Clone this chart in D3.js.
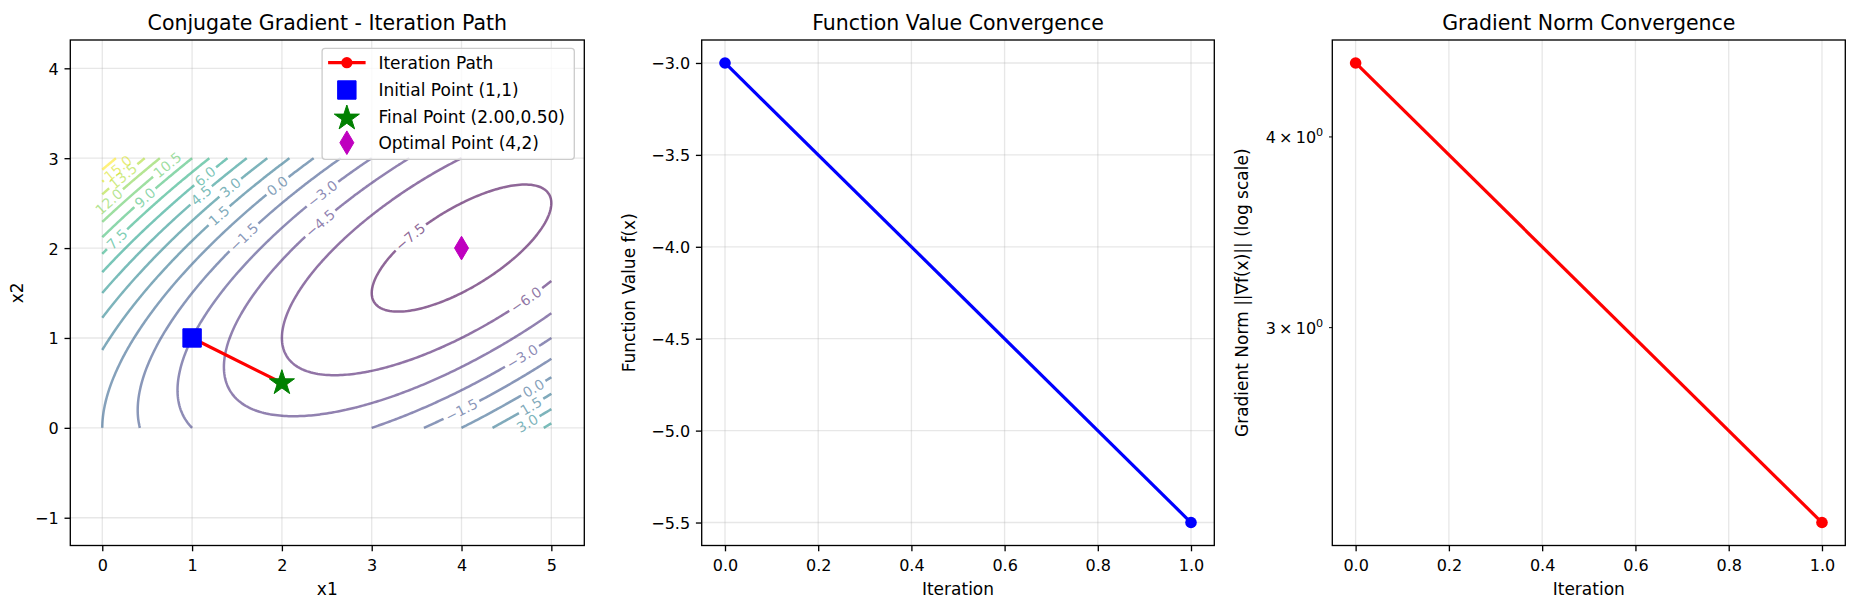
<!DOCTYPE html>
<html><head><meta charset="utf-8">
<script src="https://cdn.jsdelivr.net/npm/d3@7"></script>
<style>
body{margin:0;background:#fff;}
text{font-family:"DejaVu Sans",sans-serif;}
</style></head><body>
<svg id="chart" width="1855" height="605"></svg>
<script>
// ================= DATA =================
const pathX1 = [1, 2];
const pathX2 = [1, 0.5];
const optimalX1 = [4];
const optimalX2 = [2];
const iterations = [0, 1];
const funcValues = [-3.0, -5.5];
const gradNorms = [4.472, 2.236];
// objective: c0*x1^2 + c1*x1*x2 + c2*x2^2 + c3*x1 + c4*x2
const objCoeffs = [1, -2, 2, -4, 0];
const gridX1 = [0, 5];
const gridX2 = [0, 3];
const contourLevels = [-7.5,-6,-4.5,-3,-1.5,0,1.5,3,4.5,6,7.5,9,10.5,12,13.5,15,16.5];
const labelLevels = [-7.5,-6.0,-4.5,-3.0,-3.0,-1.5,-1.5,0.0,0.0,1.5,1.5,3.0,3.0,4.5,6.0,7.5,9.0,10.5,12.0,13.5,15.0];
const labelX1 = [3.44,4.69,2.43,2.47,4.67,1.57,3.99,1.94,4.78,1.30,4.76,1.41,4.71,1.08,1.14,0.12,0.48,0.74,0.07,0.23,0.18];
const labelX2 = [2.12,1.45,2.29,2.60,0.79,2.12,0.19,2.70,0.45,2.36,0.27,2.68,0.10,2.60,2.81,2.14,2.57,2.90,2.51,2.81,2.88];
const leftXTicks = [0,1,2,3,4,5];
const leftYTicks = [-1,0,1,2,3,4];
const iterTicks = [0,0.2,0.4,0.6,0.8,1.0];
const fTicks = [-3.0,-3.5,-4.0,-4.5,-5.0,-5.5];
const gradTicks = [3, 4];
const legendLabels = ["Iteration Path","Initial Point (1,1)","Final Point (2.00,0.50)","Optimal Point (4,2)"];
const titles = ["Conjugate Gradient - Iteration Path","Function Value Convergence","Gradient Norm Convergence"];

// ================= LAYOUT =================
const W = 1855, H = 605;
const TOP = 40, BOTTOM = 545.5;
const P = [{l:70.3, r:584.3}, {l:701.7, r:1214.3}, {l:1332.3, r:1845.3}];
const leftXLim = [-0.356, 5.367], leftYLim = [-1.309, 4.315];
const FS = 16, LFS = 17, TFS = 20.5, CFS = 14, LEGFS = 17;
const TICKLEN = 5.8, PAD = 5.8, SPW = 1.33;
const GRIDC = "#b0b0b0", GRIDA = 0.3;

const svg = d3.select("#chart");
svg.append("rect").attr("width", W).attr("height", H).attr("fill", "#fff");

function pad(lo, hi) { const d = (hi - lo) * 0.05; return [lo - d, hi + d]; }
const fmt1 = d3.format(".1f");

// scales
const xL = d3.scaleLinear().domain(leftXLim).range([P[0].l, P[0].r]);
const yL = d3.scaleLinear().domain(leftYLim).range([BOTTOM, TOP]);
const xM = d3.scaleLinear().domain(pad(d3.min(iterations), d3.max(iterations))).range([P[1].l, P[1].r]);
const yM = d3.scaleLinear().domain(pad(d3.min(funcValues), d3.max(funcValues))).range([BOTTOM, TOP]);
const xR = d3.scaleLinear().domain(pad(d3.min(iterations), d3.max(iterations))).range([P[2].l, P[2].r]);
const lgMin = Math.log(d3.min(gradNorms)), lgMax = Math.log(d3.max(gradNorms));
const lgPad = (lgMax - lgMin) * 0.05;
const yR = d3.scaleLog().domain([Math.exp(lgMin - lgPad), Math.exp(lgMax + lgPad)]).range([BOTTOM, TOP]);

const defs = svg.append("defs");
P.forEach((p, i) => {
  defs.append("clipPath").attr("id", "clip" + i).append("rect")
    .attr("x", p.l).attr("y", TOP).attr("width", p.r - p.l).attr("height", BOTTOM - TOP);
});

function gridV(g, xs, ticks) {
  g.selectAll(null).data(ticks).enter().append("line")
    .attr("x1", d => xs(d)).attr("x2", d => xs(d)).attr("y1", TOP).attr("y2", BOTTOM)
    .attr("stroke", GRIDC).attr("stroke-opacity", GRIDA).attr("stroke-width", SPW);
}
function gridH(g, ys, ticks, p) {
  g.selectAll(null).data(ticks).enter().append("line")
    .attr("y1", d => ys(d)).attr("y2", d => ys(d)).attr("x1", p.l).attr("x2", p.r)
    .attr("stroke", GRIDC).attr("stroke-opacity", GRIDA).attr("stroke-width", SPW);
}
function xAxis(xs, ticks, f) {
  const g = svg.append("g").attr("transform", `translate(0,${BOTTOM})`)
    .call(d3.axisBottom(xs).tickValues(ticks).tickFormat(f).tickSize(TICKLEN).tickPadding(PAD));
  g.select(".domain").remove();
  g.selectAll(".tick line").attr("stroke", "#000").attr("stroke-width", SPW);
  g.selectAll(".tick text").attr("font-size", FS).attr("font-family", '"DejaVu Sans",sans-serif')
    .attr("fill", "#000").attr("y", 25.4).attr("dy", 0);
}
function yAxis(ys, ticks, f, p) {
  const g = svg.append("g").attr("transform", `translate(${p.l},0)`)
    .call(d3.axisLeft(ys).tickValues(ticks).tickFormat(f).tickSize(TICKLEN).tickPadding(PAD));
  g.select(".domain").remove();
  g.selectAll(".tick line").attr("stroke", "#000").attr("stroke-width", SPW);
  g.selectAll(".tick text").attr("font-size", FS).attr("font-family", '"DejaVu Sans",sans-serif')
    .attr("fill", "#000").attr("dy", "0.37em");
}
function frame(p) {
  svg.append("rect").attr("x", p.l).attr("y", TOP).attr("width", p.r - p.l).attr("height", BOTTOM - TOP)
    .attr("fill", "none").attr("stroke", "#000").attr("stroke-width", SPW);
}
function title(p, t) {
  svg.append("text").attr("x", (p.l + p.r) / 2).attr("y", 29.5).attr("text-anchor", "middle")
    .attr("font-size", TFS).text(t);
}
function xLabel(p, t) {
  svg.append("text").attr("x", (p.l + p.r) / 2).attr("y", 595).attr("text-anchor", "middle")
    .attr("font-size", LFS).text(t);
}
function yLabel(x, t) {
  svg.append("text").attr("transform", `translate(${x},${(TOP + BOTTOM) / 2}) rotate(-90)`)
    .attr("text-anchor", "middle").attr("font-size", LFS).text(t);
}

// ================= LEFT: contour plot =================
const gL = svg.append("g");
gridV(gL, xL, leftXTicks);
gridH(gL, yL, leftYTicks, P[0]);

const NX = 201, NY = 121;
const gx = d3.range(NX).map(i => gridX1[0] + (gridX1[1] - gridX1[0]) * i / (NX - 1));
const gy = d3.range(NY).map(j => gridX2[0] + (gridX2[1] - gridX2[0]) * j / (NY - 1));
const fobj = (x, y) => objCoeffs[0]*x*x + objCoeffs[1]*x*y + objCoeffs[2]*y*y + objCoeffs[3]*x + objCoeffs[4]*y;
const vals = new Float64Array(NX * NY);
for (let j = 0; j < NY; j++) for (let i = 0; i < NX; i++) vals[j * NX + i] = fobj(gx[i], gy[j]);

function contourLines(L) {
  const pts = new Map();
  const segs = [];
  function hpt(i, j) {
    const k = "h" + i + "," + j;
    if (!pts.has(k)) { const v0 = vals[j*NX+i], v1 = vals[j*NX+i+1]; const t = (L - v0) / (v1 - v0);
      pts.set(k, [gx[i] + t * (gx[i+1] - gx[i]), gy[j]]); }
    return k;
  }
  function vpt(i, j) {
    const k = "v" + i + "," + j;
    if (!pts.has(k)) { const v0 = vals[j*NX+i], v1 = vals[(j+1)*NX+i]; const t = (L - v0) / (v1 - v0);
      pts.set(k, [gx[i], gy[j] + t * (gy[j+1] - gy[j])]); }
    return k;
  }
  for (let j = 0; j < NY - 1; j++) for (let i = 0; i < NX - 1; i++) {
    const va = vals[j*NX+i], vb = vals[j*NX+i+1], vc = vals[(j+1)*NX+i+1], vd = vals[(j+1)*NX+i];
    const a = va >= L, b = vb >= L, c = vc >= L, d = vd >= L;
    const e = [];
    if (a !== b) e.push(hpt(i, j));
    if (b !== c) e.push(vpt(i + 1, j));
    if (c !== d) e.push(hpt(i, j + 1));
    if (d !== a) e.push(vpt(i, j));
    if (e.length === 2) segs.push([e[0], e[1]]);
    else if (e.length === 4) {
      const center = (va + vb + vc + vd) / 4 >= L;
      if (center === a) { segs.push([e[0], e[1]]); segs.push([e[2], e[3]]); }
      else { segs.push([e[0], e[3]]); segs.push([e[1], e[2]]); }
    }
  }
  const adj = new Map();
  segs.forEach(([p, q]) => {
    if (!adj.has(p)) adj.set(p, []); if (!adj.has(q)) adj.set(q, []);
    adj.get(p).push(q); adj.get(q).push(p);
  });
  const visited = new Set();
  function walk(start) {
    const line = [start]; visited.add(start);
    let cur = start;
    while (true) {
      const nb = adj.get(cur).filter(n => !visited.has(n));
      if (!nb.length) break;
      cur = nb[0]; visited.add(cur); line.push(cur);
    }
    return line;
  }
  const lines = [];
  for (const [k, nb] of adj) if (nb.length === 1 && !visited.has(k)) lines.push({ keys: walk(k), closed: false });
  for (const [k] of adj) if (!visited.has(k)) { const l = walk(k); l.push(l[0]); lines.push({ keys: l, closed: true }); }
  return lines.map(l => ({ pts: l.keys.map(k => pts.get(k)), closed: l.closed }));
}

const lineData = [];
contourLevels.forEach(L => {
  contourLines(L).forEach(l => {
    lineData.push({ level: L, pts: l.pts.map(p => [xL(p[0]), yL(p[1])]), closed: l.closed, labels: [] });
  });
});
labelLevels.forEach((L, k) => {
  const hx = xL(labelX1[k]), hy = yL(labelX2[k]);
  let best = null, bd = Infinity, bi = 0;
  lineData.forEach(ld => {
    if (Math.abs(ld.level - L) > 1e-9) return;
    ld.pts.forEach((p, i) => { const d = (p[0]-hx)**2 + (p[1]-hy)**2; if (d < bd) { bd = d; best = ld; bi = i; } });
  });
  if (best) best.labels.push({ idx: bi });
});

const color = d3.scaleSequential(d3.interpolateViridis).domain([d3.min(contourLevels), d3.max(contourLevels)]);
const CALPHA = 0.6;
const gC = svg.append("g").attr("clip-path", "url(#clip0)");
const gCL = svg.append("g");
const lineGen = d3.line();

lineData.forEach(ld => {
  let pts = ld.pts;
  if (ld.closed && ld.labels.length) {
    const n = pts.length - 1;
    const shift = (ld.labels[0].idx - Math.floor(n / 2) + n) % n;
    const np = []; for (let t = 0; t < n; t++) np.push(pts[(t + shift) % n]); np.push(np[0]);
    ld.labels.forEach(lb => lb.idx = (lb.idx - shift + n) % n);
    pts = np;
  }
  const cum = [0];
  for (let i = 1; i < pts.length; i++) cum.push(cum[i-1] + Math.hypot(pts[i][0]-pts[i-1][0], pts[i][1]-pts[i-1][1]));
  const total = cum[cum.length - 1];
  function at(s) {
    s = Math.max(0, Math.min(total, s));
    let i = d3.bisectRight(cum, s) - 1; if (i >= pts.length - 1) i = pts.length - 2; if (i < 0) i = 0;
    const segL = cum[i+1] - cum[i]; const t = segL > 0 ? (s - cum[i]) / segL : 0;
    return [pts[i][0] + t * (pts[i+1][0] - pts[i][0]), pts[i][1] + t * (pts[i+1][1] - pts[i][1])];
  }
  const col = color(ld.level);
  const cuts = [];
  ld.labels.forEach(lb => {
    const s = cum[lb.idx];
    const txt = gCL.append("text").attr("font-size", CFS).attr("fill", col).attr("fill-opacity", CALPHA)
      .attr("text-anchor", "middle").attr("dy", "0.36em").text(fmt1(ld.level));
    const w = txt.node().getComputedTextLength();
    const p1 = at(s - w / 2), p2 = at(s + w / 2), c = at(s);
    let ang = Math.atan2(p2[1] - p1[1], p2[0] - p1[0]) * 180 / Math.PI;
    if (ang > 90) ang -= 180; if (ang < -90) ang += 180;
    txt.attr("transform", `translate(${c[0]},${c[1]}) rotate(${ang})`);
    cuts.push([s - w / 2 - 3, s + w / 2 + 3]);
  });
  cuts.sort((a, b) => a[0] - b[0]);
  const keep = []; let s0 = 0;
  cuts.forEach(([a, b]) => { if (a > s0) keep.push([s0, a]); s0 = Math.max(s0, b); });
  if (s0 < total) keep.push([s0, total]);
  keep.forEach(([a, b]) => {
    const pp = [at(a)];
    for (let i = 0; i < pts.length; i++) if (cum[i] > a && cum[i] < b) pp.push(pts[i]);
    pp.push(at(b));
    gC.append("path").attr("d", lineGen(pp)).attr("fill", "none").attr("stroke", col)
      .attr("stroke-opacity", CALPHA).attr("stroke-width", 2.5).attr("stroke-linejoin", "round");
  });
});
gCL.raise();

// markers
function starPath(R) {
  const r = R * 0.381966, p = [];
  for (let k = 0; k < 10; k++) { const a = -Math.PI / 2 + k * Math.PI / 5; const rad = k % 2 ? r : R; p.push([rad * Math.cos(a), rad * Math.sin(a)]); }
  return "M" + p.map(q => q.join(",")).join("L") + "Z";
}
function diamondPath(hw, hh) { return `M0,${-hh}L${hw},0L0,${hh}L${-hw},0Z`; }
function squarePath(h) { return `M${-h},${-h}L${h},${-h}L${h},${h}L${-h},${h}Z`; }
const RED = "#ff0000", BLUE = "#0000ff", GREEN = "#008000", MAG = "#bf00bf";
const LW = 3.2;

const gP = svg.append("g");
const pathPts = pathX1.map((x, i) => [xL(x), yL(pathX2[i])]);
gP.append("path").attr("d", d3.line()(pathPts)).attr("fill", "none").attr("stroke", RED).attr("stroke-width", LW);
gP.selectAll(null).data(pathPts).enter().append("circle").attr("cx", d => d[0]).attr("cy", d => d[1]).attr("r", 5.6).attr("fill", RED);
gP.append("path").attr("d", squarePath(9.2)).attr("transform", `translate(${xL(pathX1[0])},${yL(pathX2[0])})`)
  .attr("fill", BLUE).attr("stroke", BLUE).attr("stroke-width", 1);
gP.append("path").attr("d", starPath(13.2)).attr("transform", `translate(${xL(pathX1[pathX1.length-1])},${yL(pathX2[pathX2.length-1])})`)
  .attr("fill", GREEN).attr("stroke", GREEN).attr("stroke-width", 1);
gP.append("path").attr("d", diamondPath(7, 11.8)).attr("transform", `translate(${xL(optimalX1[0])},${yL(optimalX2[0])})`)
  .attr("fill", MAG).attr("stroke", MAG).attr("stroke-width", 1);

xAxis(xL, leftXTicks, d3.format("d"));
yAxis(yL, leftYTicks, d => d3.format("d")(d), P[0]);
frame(P[0]);
title(P[0], titles[0]);
xLabel(P[0], "x1");
yLabel(23, "x2");

// legend
const LG = { l: 322.1, r: 574.3, t: 48.3, b: 159.3 };
const rows = [62.7, 90, 116.7, 142.7];
const gLeg = svg.append("g");
gLeg.append("rect").attr("x", LG.l).attr("y", LG.t).attr("width", LG.r - LG.l).attr("height", LG.b - LG.t)
  .attr("rx", 3).attr("fill", "#fff").attr("fill-opacity", 0.8).attr("stroke", "#cccccc").attr("stroke-width", SPW);
const hx0 = LG.l + 6, hx1 = LG.l + 43.5, hxc = (hx0 + hx1) / 2, tx = LG.l + 56.3;
gLeg.append("line").attr("x1", hx0).attr("x2", hx1).attr("y1", rows[0]).attr("y2", rows[0]).attr("stroke", RED).attr("stroke-width", LW);
gLeg.append("circle").attr("cx", hxc).attr("cy", rows[0]).attr("r", 5.6).attr("fill", RED);
gLeg.append("path").attr("d", squarePath(9.2)).attr("transform", `translate(${hxc},${rows[1]})`).attr("fill", BLUE).attr("stroke", BLUE).attr("stroke-width", 1);
gLeg.append("path").attr("d", starPath(13.2)).attr("transform", `translate(${hxc},${rows[2] + 1.5})`).attr("fill", GREEN).attr("stroke", GREEN).attr("stroke-width", 1);
gLeg.append("path").attr("d", diamondPath(7, 11.8)).attr("transform", `translate(${hxc},${rows[3]})`).attr("fill", MAG).attr("stroke", MAG).attr("stroke-width", 1);
legendLabels.forEach((t, i) => {
  gLeg.append("text").attr("x", tx).attr("y", rows[i] + 6).attr("font-size", LEGFS).text(t);
});

// ================= MIDDLE =================
const gM = svg.append("g");
gridV(gM, xM, iterTicks);
gridH(gM, yM, fTicks, P[1]);
const mPts = iterations.map((x, i) => [xM(x), yM(funcValues[i])]);
gM.append("path").attr("d", d3.line()(mPts)).attr("fill", "none").attr("stroke", BLUE).attr("stroke-width", LW);
gM.selectAll(null).data(mPts).enter().append("circle").attr("cx", d => d[0]).attr("cy", d => d[1]).attr("r", 5.8).attr("fill", BLUE);
xAxis(xM, iterTicks, fmt1);
yAxis(yM, fTicks, fmt1, P[1]);
frame(P[1]);
title(P[1], titles[1]);
xLabel(P[1], "Iteration");
yLabel(635, "Function Value f(x)");

// ================= RIGHT =================
const gR = svg.append("g");
gridV(gR, xR, iterTicks);
const rPts = iterations.map((x, i) => [xR(x), yR(gradNorms[i])]);
gR.append("path").attr("d", d3.line()(rPts)).attr("fill", "none").attr("stroke", RED).attr("stroke-width", LW);
gR.selectAll(null).data(rPts).enter().append("circle").attr("cx", d => d[0]).attr("cy", d => d[1]).attr("r", 5.8).attr("fill", RED);
xAxis(xR, iterTicks, fmt1);
gradTicks.forEach(v => {
  const y = yR(v);
  svg.append("line").attr("x1", P[2].l - 3.3).attr("x2", P[2].l).attr("y1", y).attr("y2", y).attr("stroke", "#000").attr("stroke-width", 1);
  const t = svg.append("text").attr("x", P[2].l - 3.3 - PAD).attr("y", y + 6).attr("text-anchor", "end").attr("font-size", FS);
  t.append("tspan").text(v + "\u2009\u00d7\u200910");
  t.append("tspan").attr("dy", -7).attr("font-size", 11.2).text("0");
});
frame(P[2]);
title(P[2], titles[2]);
xLabel(P[2], "Iteration");
yLabel(1247.5, "Gradient Norm ||\u2207f(x)|| (log scale)");
</script>
</body></html>
